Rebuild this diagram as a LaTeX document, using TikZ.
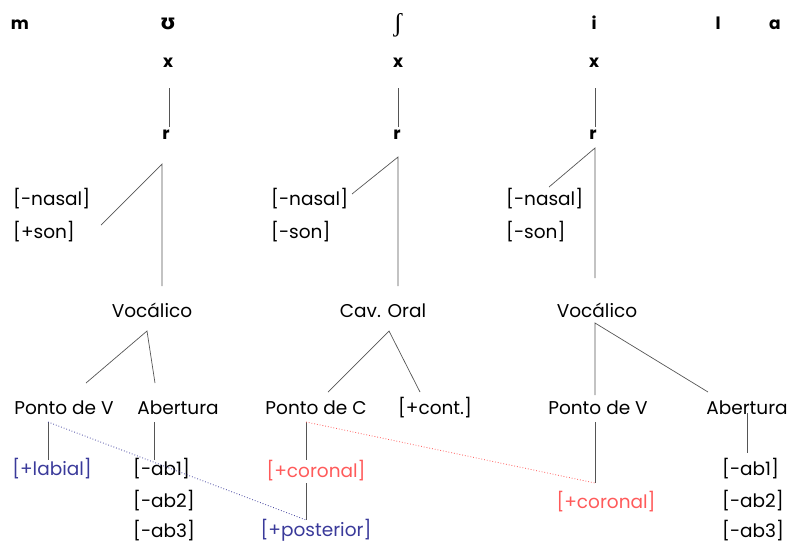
\documentclass[tikz,border=0pt]{standalone}
\usepackage{fontspec}
\setmainfont{Poppins}
\newfontfamily\ipaserif{Liberation Serif}
\newfontfamily\ipasans{DejaVu Sans}
\definecolor{featblue}{HTML}{3A3A9A}
\definecolor{featred}{HTML}{FF5A5A}
\definecolor{linegray}{HTML}{555555}
\begin{document}
\begin{tikzpicture}[x=1pt,y=-1pt,
  lbl/.style={anchor=base,inner sep=0pt,font=\fontsize{18.5}{20}\selectfont},
  seg/.style={anchor=base,inner sep=0pt,font=\fontsize{17}{20}\selectfont\bfseries},
  br/.style={draw=linegray,line width=0.7pt},
  bluelink/.style={draw=featblue,line width=0.8pt,dotted},
  redlink/.style={draw=featred,line width=0.8pt,dotted}]
\useasboundingbox (0,0) rectangle (789,544);
% top row
\node[seg] (m) at (20,29) {m};
\node[seg,font=\fontsize{21}{24}\selectfont\ipasans\bfseries] (u) at (168,29) {ʊ};
\node[seg,font=\fontsize{26}{28}\selectfont\ipaserif] (sh) at (398,31) {ʃ};
\node[seg] (i) at (594,29) {i};
\node[seg] (l) at (718,29) {l};
\node[seg] (a) at (775,29) {a};
% x row
\node[seg] (x1) at (168,67) {x};
\node[seg] (x2) at (398,67) {x};
\node[seg] (x3) at (594,67) {x};
% r row
\node[seg] (r1) at (166,139) {r};
\node[seg] (r2) at (397,139) {r};
\node[seg] (r3) at (593,139) {r};
\coordinate (x1b) at (169,88); \coordinate (r1t) at (169,127);
\coordinate (x2b) at (398,88); \coordinate (r2t) at (398,127);
\coordinate (x3b) at (595,88); \coordinate (r3t) at (595,127);
\draw[br] (x1b) -- (r1t);
\draw[br] (x2b) -- (r2t);
\draw[br] (x3b) -- (r3t);
% column 1
\node[lbl,anchor=base west] (n1) at (13,205) {[-nasal]};
\node[lbl,anchor=base west] (s1) at (13,238) {[+son]};
\coordinate (a1) at (162,164);
\coordinate (a1l) at (101,225);
\coordinate (a1b) at (162,286);
\draw[br] (a1l) -- (a1) -- (a1b);
\node[lbl] (voc1) at (152,317) {Vocálico};
\coordinate (v1) at (147,331);
\coordinate (v1l) at (86,383);
\coordinate (v1r) at (155,383);
\draw[br] (v1l) -- (v1) -- (v1r);
\node[lbl] (pv1) at (64,414) {Ponto de V};
\node[lbl] (ab1) at (178,414) {Abertura};
\coordinate (pv1b) at (48,422); \coordinate (lab1t) at (48,460);
\draw[br] (pv1b) -- (lab1t);
\node[lbl,text=featblue] (lab1) at (52,475) {[+labial]};
\coordinate (ab1b) at (154,422); \coordinate (ab1e) at (154,460);
\draw[br] (ab1b) -- (ab1e);
\node[lbl,anchor=base west] (ab1a) at (133,475) {[-ab1]};
\node[lbl,anchor=base west] (ab1c) at (133,507) {[-ab2]};
\node[lbl,anchor=base west] (ab1d) at (133,537) {[-ab3]};
% column 2
\node[lbl,anchor=base west] (n2) at (271,205) {[-nasal]};
\node[lbl,anchor=base west] (s2) at (271,238) {[-son]};
\coordinate (a2) at (398,157);
\coordinate (a2l) at (352,194);
\coordinate (a2b) at (398,286);
\draw[br] (a2l) -- (a2) -- (a2b);
\node[lbl] (cav) at (383,317) {Cav. Oral};
\coordinate (c2) at (389,331);
\coordinate (c2l) at (328,392);
\coordinate (c2r) at (420,392);
\draw[br] (c2l) -- (c2) -- (c2r);
\node[lbl] (pc) at (316,414) {Ponto de C};
\node[lbl] (cont) at (435,414) {[+cont.]};
\coordinate (pcb) at (306,422); \coordinate (cor1t) at (306,460);
\draw[br] (pcb) -- (cor1t);
\node[lbl,text=featred] (cor1) at (316,477) {[+coronal]};
\coordinate (cor1b) at (306,483); \coordinate (post) at (306,520);
\draw[br] (cor1b) -- (post);
\node[lbl,text=featblue] (postn) at (316,536) {[+posterior]};
% column 3
\node[lbl,anchor=base west] (n3) at (506,205) {[-nasal]};
\node[lbl,anchor=base west] (s3) at (506,238) {[-son]};
\coordinate (a3) at (595,148);
\coordinate (a3l) at (549,187);
\coordinate (a3b) at (595,278);
\draw[br] (a3l) -- (a3) -- (a3b);
\node[lbl] (voc3) at (597,317) {Vocálico};
\coordinate (v3) at (595,323);
\coordinate (v3l) at (595,395);
\coordinate (v3r) at (708,392);
\draw[br] (v3l) -- (v3) -- (v3r);
\node[lbl] (pv3) at (598,414) {Ponto de V};
\node[lbl] (ab3) at (747,414) {Abertura};
\coordinate (pv3b) at (595,422); \coordinate (cor2t) at (595,483);
\draw[br] (pv3b) -- (cor2t);
\node[lbl,text=featred] (cor2) at (606,508) {[+coronal]};
\coordinate (ab3b) at (747,413); \coordinate (ab3e) at (747,453);
\draw[br] (ab3b) -- (ab3e);
\node[lbl,anchor=base west] (ab3a) at (722,475) {[-ab1]};
\node[lbl,anchor=base west] (ab3c) at (722,507) {[-ab2]};
\node[lbl,anchor=base west] (ab3d) at (722,537) {[-ab3]};
% spreading links
\draw[bluelink] (pv1b) -- (post);
\draw[redlink] (pcb) -- (cor2t);
\end{tikzpicture}
\end{document}
